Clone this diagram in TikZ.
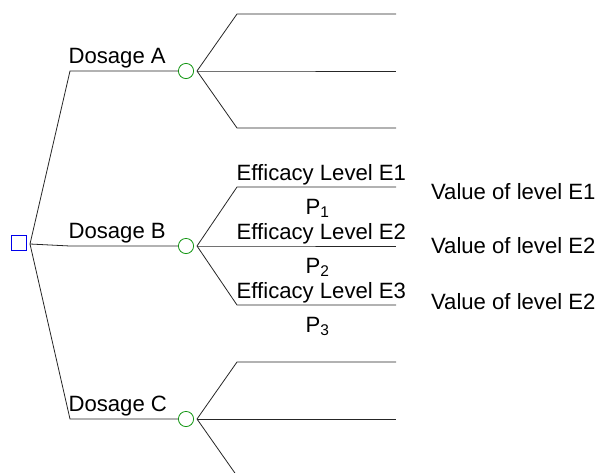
\documentclass[tikz,border=0pt]{standalone}
\usepackage{fontspec}
\setmainfont{Liberation Sans}
\definecolor{chancegreen}{RGB}{20,150,20}
\definecolor{decideblue}{RGB}{0,0,235}

\begin{document}
\begin{tikzpicture}[x=0.75pt, y=-0.75pt,
        edge/.style={black!85, line width=0.6pt},
        decision/.style={draw=decideblue, line width=0.6pt, minimum size=11.4pt, inner sep=0pt},
        chance/.style={circle, draw=chancegreen, line width=0.6pt, minimum size=11.4pt, inner sep=0pt},
        lbl/.style={anchor=base west, inner sep=0pt, font=\fontsize{16.6}{20}\selectfont}]
    \useasboundingbox (0, 0) rectangle (599, 472);
    \clip (0, 0) rectangle (599, 472);

    % decision node and the point the dosages fan out from
    \node[decision] (root) at (18.5, 243) {};
    \coordinate (fork) at (30, 244);

    % one chance node per dosage, three outcomes each
    \foreach \name/\y/\d in {A/71/57, B/246/59, C/419/57} {
        \coordinate (bend\name) at (70, \y);
        \node[chance] (dose\name) at (186, \y) {};
        \draw[edge] (fork) -- (bend\name) -- (dose\name.west);
        \node[lbl] (lab\name) at (68.3, \y-8) {Dosage \name};

        \coordinate (split\name) at (197, \y);
        \foreach \k in {1, 2, 3} {
            \coordinate (knee\name\k) at (237, \y+\k*\d-2*\d);
            \coordinate (leaf\name\k) at (396, \y+\k*\d-2*\d);
            \draw[edge] (split\name) -- (knee\name\k) -- (leaf\name\k);
        }
    }

    % labels on the dosage B outcomes
    \foreach \k/\yb/\v in {1/199/1, 2/253/2, 3/309/2} {
        \node[lbl] (eff\k) at (236.4, {188+(\k-1)*59-8}) {Efficacy Level E\k};
        \node[lbl] (prob\k) at (305.3, {188+(\k-1)*59+26}) {P\textsubscript{\k}};
        \node[lbl] (val\k) at (430.8, \yb) {Value of level E\v};
    }
\end{tikzpicture}
\end{document}
